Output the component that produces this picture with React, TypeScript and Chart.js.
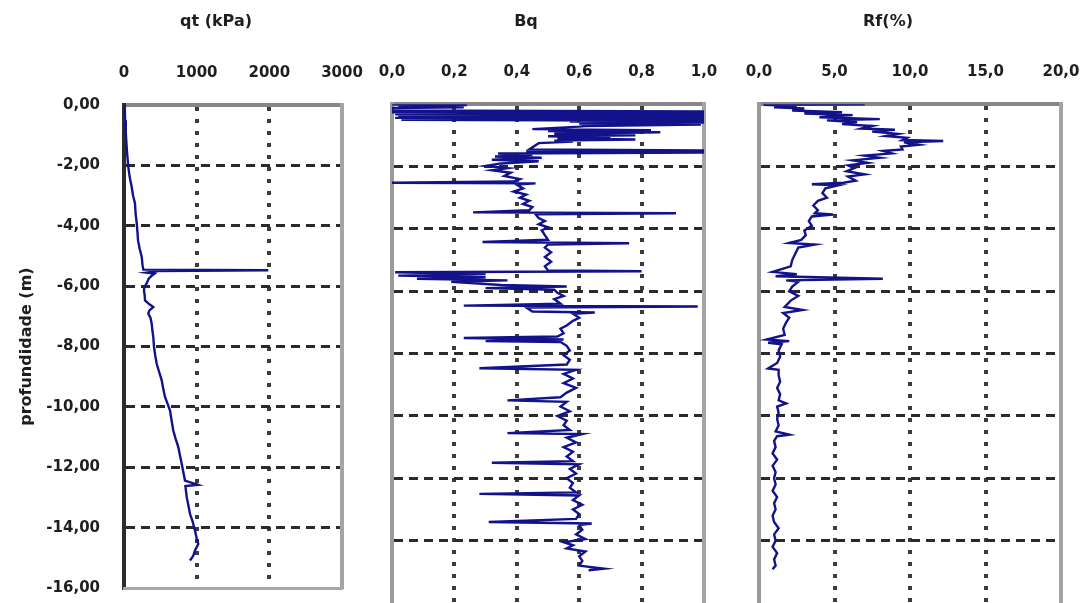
import React, { useEffect, useRef } from 'react';
import { Chart, registerables } from 'chart.js';

Chart.register(...registerables);

// ---------- data (depth in m, negative downward) ----------
const qtDepth = [
  0, -0.5, -0.93, -1.5, -2.05, -2.4, -2.71, -3.0, -3.25, -3.6,
  -3.9, -4.2, -4.48, -4.75, -5.03, -5.3, -5.45, -5.47, -5.5, -5.55,
  -5.58, -5.65, -5.75, -5.9, -6.05, -6.15, -6.3, -6.47, -6.6, -6.69,
  -6.8, -6.9, -7.05, -7.24, -7.45, -7.68, -8.01, -8.3, -8.57, -8.85,
  -9.12, -9.4, -9.67, -9.9, -10.12, -10.45, -10.78, -11.05, -11.33, -11.6,
  -11.88, -12.15, -12.44, -12.58, -12.62, -12.99, -13.25, -13.54, -13.8, -14.1,
  -14.35, -14.54, -14.65, -14.76, -14.95, -15.09,
];
const qtValues = [
  10, 15, 25, 40, 59, 80, 106, 125, 151, 160,
  175, 185, 193, 215, 244, 255, 266, 1986, 450, 310,
  420, 381, 340, 312, 278, 275, 285, 289, 350, 403,
  350, 334, 365, 381, 390, 403, 413, 430, 450, 485,
  519, 540, 564, 600, 633, 655, 678, 710, 747, 770,
  794, 815, 839, 1018, 845, 863, 885, 908, 945, 977,
  1000, 1022, 1000, 977, 950, 908,
];

const bqDepth = [
  0, -0.03, -0.06, -0.1, -0.12, -0.2, -0.23, -0.26, -0.29, -0.32,
  -0.35, -0.38, -0.41, -0.44, -0.47, -0.5, -0.53, -0.56, -0.59, -0.62,
  -0.65, -0.7, -0.72, -0.8, -0.83, -0.86, -0.9, -0.95, -1.0, -1.03,
  -1.07, -1.1, -1.13, -1.17, -1.2, -1.25, -1.45, -1.48, -1.52, -1.55,
  -1.58, -1.62, -1.68, -1.72, -1.78, -1.83, -1.9, -1.98, -2.05, -2.12,
  -2.2, -2.3, -2.4, -2.48, -2.52, -2.54, -2.58, -2.7, -2.8, -2.9,
  -3.0, -3.1, -3.2, -3.3, -3.4, -3.47, -3.5, -3.53, -3.65, -3.75,
  -3.85, -3.95, -4.05, -4.2, -4.35, -4.42, -4.46, -4.5, -4.6, -4.75,
  -4.9, -5.05, -5.2, -5.33, -5.36, -5.39, -5.45, -5.5, -5.55, -5.6,
  -5.65, -5.7, -5.8, -5.85, -5.9, -5.95, -6.05, -6.15, -6.25, -6.4,
  -6.46, -6.49, -6.52, -6.65, -6.68, -6.72, -6.85, -6.95, -7.1, -7.2,
  -7.35, -7.45, -7.5, -7.55, -7.6, -7.63, -7.75, -7.9, -8.05, -8.2,
  -8.35, -8.47, -8.52, -8.65, -8.8, -8.95, -9.1, -9.25, -9.4, -9.5,
  -9.55, -9.7, -9.85, -10.0, -10.15, -10.3, -10.45, -10.55, -10.58, -10.7,
  -10.85, -11.0, -11.15, -11.3, -11.45, -11.5, -11.55, -11.7, -11.85, -12.0,
  -12.15, -12.3, -12.45, -12.5, -12.55, -12.7, -12.85, -13.0, -13.15, -13.3,
  -13.4, -13.45, -13.5, -13.65, -13.8, -13.95, -14.05, -14.15, -14.25, -14.35,
  -14.5, -14.65, -14.8, -14.9, -14.95,
];
const bqValues = [
  0.0, 0.24, 0.02, 0.23, 0.0, 0.0, 1.0, 0.0, 1.0, 0.01,
  1.0, 0.02, 1.0, 0.01, 1.0, 0.03, 1.0, 0.57, 1.0, 0.6,
  0.99, 0.62, 0.6, 0.45, 0.83, 0.5, 0.86, 0.52, 0.78, 0.5,
  0.7, 0.53, 0.78, 0.52, 0.58, 0.47, 0.44, 1.0, 0.43, 1.0,
  0.34, 0.45, 0.33, 0.48, 0.32, 0.47, 0.35, 0.3, 0.37, 0.32,
  0.38, 0.36, 0.41, 0.39, 0.0, 0.46, 0.4, 0.42, 0.39, 0.43,
  0.41, 0.44, 0.42, 0.45, 0.44, 0.26, 0.91, 0.46, 0.47, 0.49,
  0.47, 0.5, 0.48, 0.49, 0.5, 0.29, 0.76, 0.5, 0.49, 0.51,
  0.49, 0.51, 0.49, 0.5, 0.8, 0.01, 0.3, 0.02, 0.3, 0.08,
  0.37, 0.19, 0.35, 0.56, 0.3, 0.52, 0.53, 0.55, 0.52, 0.54,
  0.23, 0.98, 0.43, 0.45, 0.65, 0.58, 0.6, 0.58, 0.56, 0.54,
  0.55, 0.53, 0.23, 0.55, 0.3, 0.54, 0.56, 0.57, 0.55, 0.57,
  0.56, 0.28, 0.59, 0.55, 0.58, 0.55, 0.59, 0.56, 0.54, 0.37,
  0.56, 0.54, 0.57, 0.53, 0.56, 0.55, 0.57, 0.37, 0.61, 0.56,
  0.59, 0.55, 0.58, 0.56, 0.58, 0.32, 0.6, 0.57, 0.59, 0.56,
  0.58, 0.57, 0.59, 0.28, 0.6, 0.58, 0.61, 0.58, 0.6, 0.59,
  0.31, 0.64, 0.6, 0.61, 0.59, 0.62, 0.55, 0.58, 0.56, 0.62,
  0.6, 0.61, 0.6, 0.68, 0.63,
];

const rfDepth = [
  0, -0.02, -0.06, -0.1, -0.14, -0.2, -0.26, -0.3, -0.35, -0.42,
  -0.48, -0.52, -0.58, -0.64, -0.7, -0.78, -0.82, -0.88, -0.95, -1.02,
  -1.08, -1.15, -1.18, -1.22, -1.3, -1.36, -1.45, -1.5, -1.58, -1.65,
  -1.72, -1.8, -1.88, -1.96, -2.05, -2.15, -2.25, -2.32, -2.45, -2.52,
  -2.57, -2.6, -2.7, -2.85, -3.0, -3.1, -3.25, -3.4, -3.5, -3.54,
  -3.6, -3.75, -3.9, -4.05, -4.2, -4.35, -4.45, -4.5, -4.6, -4.8,
  -5.0, -5.2, -5.38, -5.45, -5.52, -5.6, -5.65, -5.7, -5.85, -6.0,
  -6.15, -6.3, -6.5, -6.6, -6.7, -6.85, -7.0, -7.2, -7.4, -7.55,
  -7.6, -7.65, -7.7, -7.9, -8.1, -8.3, -8.48, -8.52, -8.7, -8.9,
  -9.1, -9.3, -9.5, -9.6, -9.7, -9.9, -10.1, -10.3, -10.5, -10.6,
  -10.65, -10.8, -11.0, -11.2, -11.4, -11.6, -11.8, -12.0, -12.2, -12.4,
  -12.6, -12.8, -13.0, -13.2, -13.4, -13.6, -13.8, -14.0, -14.2, -14.4,
  -14.6, -14.8, -14.92,
];
const rfValues = [
  7.0, 0.3, 2.5, 1.0, 3.0, 2.2, 5.5, 3.0, 6.2, 4.0,
  8.0, 4.5, 6.5, 5.5, 7.5, 6.8, 9.0, 7.5, 9.2, 8.4,
  9.8, 9.5, 12.2, 9.6, 10.6, 9.4, 9.5, 8.2, 8.8, 7.0,
  8.0, 6.2, 7.2, 5.9, 6.3, 5.8, 7.0, 5.9, 6.4, 5.6,
  3.5, 5.3, 4.4, 4.2, 4.5, 3.9, 3.6, 3.9, 3.7, 4.9,
  3.5, 3.3, 3.5, 3.0, 3.1, 2.8, 2.0, 3.7, 2.6, 2.4,
  2.2, 2.1, 0.9, 2.5, 1.1, 8.2, 1.8, 2.6, 2.2, 2.0,
  2.6, 2.1, 1.7, 2.9, 1.6, 2.0, 1.8, 1.6, 1.7, 0.5,
  2.0, 0.6, 1.5, 1.3, 1.4, 1.2, 0.6, 1.3, 1.3, 1.4,
  1.2, 1.4, 1.3, 1.8, 1.2, 1.3, 1.2, 1.3, 1.1, 2.0,
  1.2, 1.0, 1.1, 0.9, 1.2, 0.9, 1.1, 1.0, 1.1, 0.9,
  1.2, 1.0, 1.1, 0.9, 1.0, 1.3, 1.0, 1.1, 0.9, 1.2,
  1.0, 1.1, 0.9,
];

const panelTitles = ['qt (kPa)', 'Bq', 'Rf(%)'];
const yAxisTitle = 'profundidade (m)';

// ---------- styling ----------
const FONT = 'DejaVu Sans';
const TEXT = '#1e1e1e';
const LINE = '#12128a';
const H = 603;

type Spec = {
  left: number;
  width: number;
  leftW: number;
  rightW: number;
  bottomH: number;
  title: string;
  xMin: number;
  xMax: number;
  xStep: number;
  xFmt: (v: number) => string;
  depth: number[];
  values: number[];
  showY: boolean;
  leftBorder: string;
  xAxisH: number;
};

const near = (a: number, b: number) => Math.abs(a - b) < 1e-6;

function makeConfig(s: Spec): any {
  const font = { family: FONT, size: 15, weight: 'bold' as const };
  const titleFont = { family: FONT, size: 16, weight: 'bold' as const };
  const gridColor = (min: number, max: number, c: string) => (ctx: any) => {
    const v = ctx.tick ? ctx.tick.value : NaN;
    return near(v, min) || near(v, max) ? 'rgba(0,0,0,0)' : c;
  };
  const scales: any = {
    x: {
      type: 'linear',
      position: 'top',
      min: s.xMin,
      max: s.xMax,
      afterFit: (sc: any) => {
        sc.height = s.xAxisH;
        sc.paddingLeft = 0;
        sc.paddingRight = 0;
      },
      ticks: {
        stepSize: s.xStep,
        autoSkip: false,
        maxRotation: 0,
        minRotation: 0,
        padding: 23,
        color: TEXT,
        font,
        callback: (v: any) => s.xFmt(Number(v)),
      },
      grid: {
        color: gridColor(s.xMin, s.xMax, '#3c3c3c'),
        lineWidth: 4,
        drawTicks: false,
      },
      border: { color: '#868686', width: 4, dash: [4, 8] },
    },
    y: {
      type: 'linear',
      position: 'left',
      min: -16,
      max: 0,
      afterFit: (sc: any) => {
        sc.width = s.leftW;
        sc.paddingTop = 0;
        sc.paddingBottom = 0;
      },
      ticks: {
        stepSize: 2,
        display: s.showY,
        padding: 24,
        color: TEXT,
        font,
        callback: (v: any) => Number(v).toFixed(2).replace('.', ','),
      },
      title: {
        display: s.showY,
        text: yAxisTitle,
        color: TEXT,
        font: titleFont,
        padding: { top: 17, bottom: 0 },
      },
      grid: {
        color: gridColor(-16, 0, '#2a2a2a'),
        lineWidth: 3,
        drawTicks: false,
      },
      border: { color: s.leftBorder, width: 4, dash: [9, 6] },
    },
    y2: {
      type: 'linear',
      position: 'right',
      min: -16,
      max: 0,
      afterFit: (sc: any) => {
        sc.width = s.rightW;
        sc.paddingTop = 0;
        sc.paddingBottom = 0;
      },
      ticks: { display: false, stepSize: 2 },
      grid: { color: 'rgba(0,0,0,0)', drawTicks: false, lineWidth: 1 },
      border: { color: '#a4a4a4', width: 4 },
    },
  };
  if (s.bottomH > 0) {
    scales.x2 = {
      type: 'linear',
      position: 'bottom',
      min: s.xMin,
      max: s.xMax,
      afterFit: (sc: any) => {
        sc.height = s.bottomH;
        sc.paddingLeft = 0;
        sc.paddingRight = 0;
      },
      ticks: { display: false, stepSize: s.xStep },
      grid: { color: 'rgba(0,0,0,0)', drawTicks: false, lineWidth: 1 },
      border: { color: '#a8a8a8', width: 3 },
    };
  }
  return {
    type: 'scatter',
    data: {
      datasets: [
        {
          data: s.depth.map((d, i) => ({ x: s.values[i], y: d })),
          showLine: true,
          borderColor: LINE,
          backgroundColor: LINE,
          borderWidth: 2.4,
          pointRadius: 0,
          tension: 0,
          xAxisID: 'x',
          yAxisID: 'y',
        },
      ],
    },
    options: {
      responsive: false,
      maintainAspectRatio: false,
      animation: false,
      events: [],
      layout: { padding: 0 },
      plugins: {
        legend: { display: false },
        tooltip: { enabled: false },
        title: {
          display: true,
          text: s.title,
          color: TEXT,
          font: titleFont,
          padding: { top: 12, bottom: 10 },
        },
      },
      scales,
    },
  };
}

const specs: Spec[] = [
  {
    left: 0, width: 432, leftW: 124, rightW: 90, bottomH: 15, xAxisH: 64,
    title: panelTitles[0], xMin: 0, xMax: 3000, xStep: 1000,
    xFmt: (v) => String(Math.round(v)),
    depth: qtDepth, values: qtValues, showY: true, leftBorder: '#2c2c2c',
  },
  {
    left: 324, width: 404, leftW: 68, rightW: 24, bottomH: 0, xAxisH: 63,
    title: panelTitles[1], xMin: 0, xMax: 1, xStep: 0.2,
    xFmt: (v) => v.toFixed(1).replace('.', ','),
    depth: bqDepth, values: bqValues, showY: false, leftBorder: '#9a9a9a',
  },
  {
    left: 687, width: 402, leftW: 72, rightW: 28, bottomH: 0, xAxisH: 63,
    title: panelTitles[2], xMin: 0, xMax: 20, xStep: 5,
    xFmt: (v) => v.toFixed(1).replace('.', ','),
    depth: rfDepth, values: rfValues, showY: false, leftBorder: '#9a9a9a',
  },
];

function Panel({ spec }: { spec: Spec }) {
  const ref = useRef<HTMLCanvasElement | null>(null);
  useEffect(() => {
    if (!ref.current) return;
    const chart = new Chart(ref.current, makeConfig(spec));
    return () => chart.destroy();
  }, [spec]);
  return (
    <canvas
      ref={ref}
      width={spec.width}
      height={H}
      style={{ position: 'absolute', left: spec.left, top: 0, width: spec.width, height: H }}
    />
  );
}

export default function App() {
  return (
    <div
      style={{
        position: 'fixed',
        left: 0,
        top: 0,
        width: 1089,
        height: H,
        background: '#fff',
        overflow: 'hidden',
      }}
    >
      {specs.map((s, i) => (
        <Panel key={i} spec={s} />
      ))}
    </div>
  );
}
